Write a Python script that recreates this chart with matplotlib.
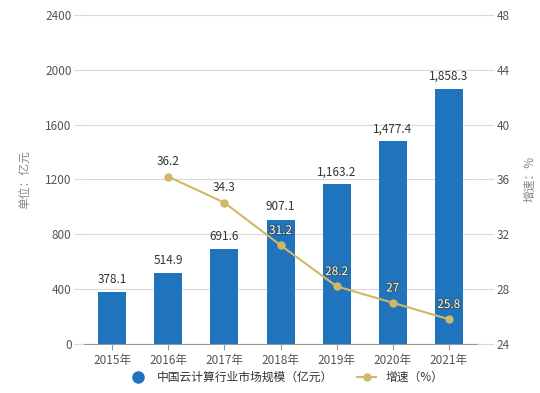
import matplotlib.pyplot as plt
import matplotlib.patheffects as pe
from matplotlib.lines import Line2D

plt.rcParams['font.family'] = ['Noto Sans CJK SC', 'DejaVu Sans']

years = ['2015年', '2016年', '2017年', '2018年', '2019年', '2020年', '2021年']
market = [378.1, 514.9, 691.6, 907.1, 1163.2, 1477.4, 1858.3]
market_labels = ['378.1', '514.9', '691.6', '907.1', '1,163.2', '1,477.4', '1,858.3']
growth_years = [1, 2, 3, 4, 5, 6]
growth = [36.2, 34.3, 31.2, 28.2, 27, 25.8]
growth_labels = ['36.2', '34.3', '31.2', '28.2', '27', '25.8']

bar_color = '#1f74bd'
line_color = '#d1b866'
grid_color = '#d9d9d9'
text_color = '#555555'

fig = plt.figure(figsize=(5.4, 3.93), dpi=100)
ax = fig.add_axes([0.156, 0.125, 0.727, 0.837])
x = list(range(len(years)))

ax.bar(x, market, width=0.5, color=bar_color, zorder=2)
for xi, v, lab in zip(x, market, market_labels):
    ax.text(xi, v + 45, lab, ha='center', va='bottom', fontsize=8.5,
            color='#333333', fontweight='medium', zorder=5)

ax.set_xlim(-0.5, 6.5)
ax.set_ylim(0, 2400)
ax.set_yticks(range(0, 2401, 400))
ax.set_xticks(x)
ax.set_xticklabels(years)
ax.yaxis.grid(True, color=grid_color, linewidth=0.8, zorder=0)
ax.set_axisbelow(True)
for s in ['top', 'right', 'left']:
    ax.spines[s].set_visible(False)
ax.spines['bottom'].set_color('#999999')
ax.tick_params(axis='y', length=7, color=grid_color, labelsize=8.5, labelcolor=text_color, pad=2)
ax.tick_params(axis='x', length=4, color='#999999', labelsize=8.5, labelcolor=text_color, pad=3)
ax.set_ylabel('单位：亿元', fontsize=8.5, color='#888888', labelpad=10)

ax2 = ax.twinx()
ax2.plot(growth_years, growth, color=line_color, linewidth=1.5, marker='o',
         markersize=5, zorder=4)
ax2.set_ylim(24, 48)
ax2.set_yticks(range(24, 49, 4))
for s in ['top', 'right', 'left', 'bottom']:
    ax2.spines[s].set_visible(False)
ax2.tick_params(axis='y', length=12, color=grid_color, labelsize=8.5, labelcolor=text_color, pad=2)
ax2.set_ylabel('增速：%', fontsize=8.5, color='#888888', rotation=90, labelpad=10)

for xi, v, lab in zip(growth_years, growth, growth_labels):
    if v > 33:
        ax2.text(xi, v + 0.6, lab, ha='center', va='bottom', fontsize=8.5,
                 color='#333333', fontweight='medium', zorder=6)
    else:
        t = ax2.text(xi, v + 0.6, lab, ha='center', va='bottom', fontsize=8.5,
                     color='white', fontweight='medium', zorder=6)
        t.set_path_effects([pe.Stroke(linewidth=1.5, foreground='#335566'), pe.Normal()])

handles = [
    Line2D([], [], color=bar_color, marker='o', linestyle='none', markersize=8),
    Line2D([], [], color=line_color, marker='o', linewidth=1.5, markersize=5),
]
fig.legend(handles, ['中国云计算行业市场规模（亿元）', '增速（%）'], loc='center',
           bbox_to_anchor=(0.53, 0.04), ncol=2, frameon=False, fontsize=8.5,
           handlelength=1.6, columnspacing=2.0, labelcolor='#333333')

fig.savefig('out.png', dpi=100)
